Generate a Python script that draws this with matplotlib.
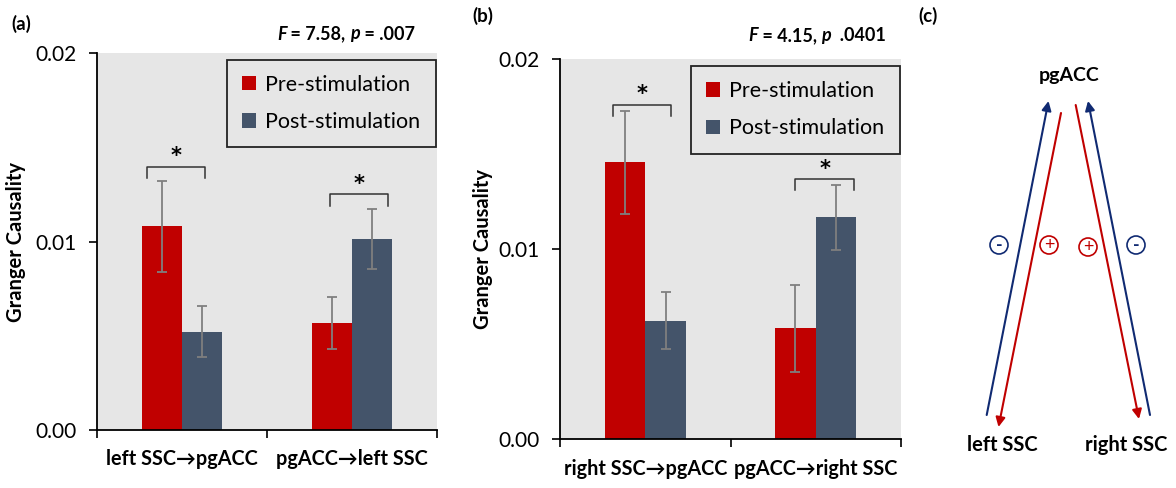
import matplotlib
matplotlib.use('Agg')
import matplotlib.pyplot as plt
from matplotlib.patches import Circle
import numpy as np

# ---- data ----
series = ['Pre-stimulation', 'Post-stimulation']
cats_a = ['left SSC\u2192pgACC', 'pgACC\u2192left SSC']
pre_a = [0.0108, 0.00566]
post_a = [0.00522, 0.01015]
pre_err_a = [0.0024, 0.00137]
post_err_a = [0.00137, 0.0016]

cats_b = ['right SSC\u2192pgACC', 'pgACC\u2192right SSC']
pre_b = [0.01458, 0.00584]
post_b = [0.00624, 0.01168]
pre_err_b = [0.0027, 0.0023]
post_err_b = [0.0015, 0.0017]

stats_a = [('F', True), (' = 7.58, ', False), ('p', True), (' = .007', False)]
stats_b = [('F', True), (' = 4.15, ', False), ('p', True), ('  .0401', False)]

yticks = [0.0, 0.01, 0.02]
ytick_labels = ['0.00', '0.01', '0.02']

RED = '#C00000'
SLATE = '#44546A'
NAVY = '#102A72'
GRAY_BG = '#E6E6E6'
FONT = ['Lato', 'DejaVu Sans']

plt.rcParams['font.family'] = FONT

W, H = 1176, 488
fig = plt.figure(figsize=(W / 100, H / 100), dpi=100)
renderer = fig.canvas.get_renderer()


def bar_panel(rect, cats, pre, post, pre_err, post_err, brackets, ylab_x):
    ax = fig.add_axes(rect)
    ax.set_facecolor(GRAY_BG)
    x = np.arange(len(cats))
    w = 0.238
    ax.bar(x - w / 2, pre, w, color=RED, label=series[0], zorder=2)
    ax.bar(x + w / 2, post, w, color=SLATE, label=series[1], zorder=2)
    ekw = dict(fmt='none', ecolor='#7F7F7F', elinewidth=1.3, capsize=3.3, capthick=1.3, zorder=3)
    ax.errorbar(x - w / 2, pre, yerr=pre_err, **ekw)
    ax.errorbar(x + w / 2, post, yerr=post_err, **ekw)
    ax.set_xlim(-0.5, len(cats) - 0.5)
    ax.set_ylim(0, 0.02)
    ax.set_yticks(yticks)
    ax.set_yticklabels(ytick_labels, fontsize=15)
    ax.set_xticks([-0.5, 0.5, 1.5])
    ax.set_xticklabels([])
    ax.set_xticks(x, minor=True)
    ax.set_xticklabels(cats, minor=True, fontsize=14.3, fontweight='bold')
    ax.tick_params(axis='x', which='minor', length=0, pad=14)
    ax.tick_params(axis='x', which='major', length=6, width=1.2, direction='out')
    ax.tick_params(axis='y', length=6, width=1.2, pad=9)
    for s in ['top', 'right']:
        ax.spines[s].set_visible(False)
    for s in ['left', 'bottom']:
        ax.spines[s].set_linewidth(1.3)
    ax.set_ylabel('Granger Causality', fontsize=14.5, fontweight='bold')
    ax.yaxis.set_label_coords(ylab_x, 0.5)
    # significance brackets
    for i, (xl, xr, top, leg) in enumerate(brackets):
        ax.plot([i + xl, i + xl, i + xr, i + xr], [top - leg, top, top, top - leg],
                color='#333333', lw=1.1, zorder=4)
        ax.text(i + (xl + xr) / 2, top + 0.00055, '*', ha='center', va='center',
                fontsize=15, fontweight='bold', family='DejaVu Sans')
    lg = ax.legend(loc='upper right', bbox_to_anchor=(0.996, 0.982), fontsize=15.5,
                   handlelength=0.65, handleheight=0.65, handletextpad=0.45,
                   labelspacing=0.8, borderpad=0.7, borderaxespad=0,
                   fancybox=False, edgecolor='#222222', facecolor=GRAY_BG, framealpha=1)
    lg.get_frame().set_linewidth(1.3)
    return ax


def advance(txt, kw):
    # width of a text piece including its spaces, in pixels
    t1 = fig.text(0, 0, '|' + txt + '|', **kw)
    t2 = fig.text(0, 0, '||', **kw)
    wd = t1.get_window_extent(renderer).width - t2.get_window_extent(renderer).width
    t1.remove()
    t2.remove()
    return wd


def stats_text(x_px, y_px, parts):
    x = x_px
    for txt, ital in parts:
        kw = dict(fontsize=13, fontweight='bold', style='italic' if ital else 'normal')
        fig.text(x / W, 1 - y_px / H, txt, ha='left', va='baseline', **kw)
        x += advance(txt, kw)


ax_a = bar_panel([97 / W, 58 / H, 340 / W, 377 / H], cats_a, pre_a, post_a,
                 pre_err_a, post_err_a,
                 [(-0.206, 0.134, 0.01397, 0.0006), (-0.129, 0.21, 0.0125, 0.0006)], -0.21)
ax_b = bar_panel([560 / W, 48.7 / H, 341 / W, 380 / H], cats_b, pre_b, post_b,
                 pre_err_b, post_err_b,
                 [(-0.19, 0.151, 0.0176, 0.00057), (-0.119, 0.225, 0.0137, 0.00057)], -0.197)

stats_text(277, 39.5, stats_a)
stats_text(748, 41, stats_b)

for lab, xp, yp in [('(a)', 11, 24), ('(b)', 472, 16), ('(c)', 918, 16)]:
    fig.text(xp / W, 1 - yp / H, lab, fontsize=13.5, fontweight='bold', va='center')

# ---- panel (c): connectivity diagram (pixel coordinates) ----
axc = fig.add_axes([920 / W, 0, 256 / W, 1])
axc.set_xlim(920, 1176)
axc.set_ylim(488, 0)
axc.axis('off')

arrows = [  # (start, end, colour)
    ((986.7, 415), (1048.5, 101), NAVY),
    ((1061, 113), (998.5, 427), RED),
    ((1075.7, 105), (1139, 419), RED),
    ((1150, 415), (1088, 101), NAVY),
]
for start, end, col in arrows:
    axc.annotate('', xy=end, xytext=start,
                 arrowprops=dict(arrowstyle='-|>', color=col, lw=1.5,
                                 mutation_scale=14, shrinkA=0, shrinkB=0))

signs = [(999, 245, '-', NAVY), (1049, 245, '+', RED), (1088, 247, '+', RED), (1136, 245, '-', NAVY)]
for cx, cy, s, col in signs:
    axc.add_patch(Circle((cx, cy), 9, fill=False, edgecolor=col, lw=1.2))
    axc.text(cx, cy + 0.5, s, color=col, ha='center', va='center', fontsize=13,
             fontweight='bold' if s == '-' else 'normal')

axc.text(1069, 76, 'pgACC', ha='center', va='center', fontsize=14, fontweight='bold')
axc.text(1002, 445, 'left SSC', ha='center', va='center', fontsize=14.5, fontweight='bold')
axc.text(1126, 445, 'right SSC', ha='center', va='center', fontsize=14.5, fontweight='bold')

fig.savefig('out.png', dpi=100)
